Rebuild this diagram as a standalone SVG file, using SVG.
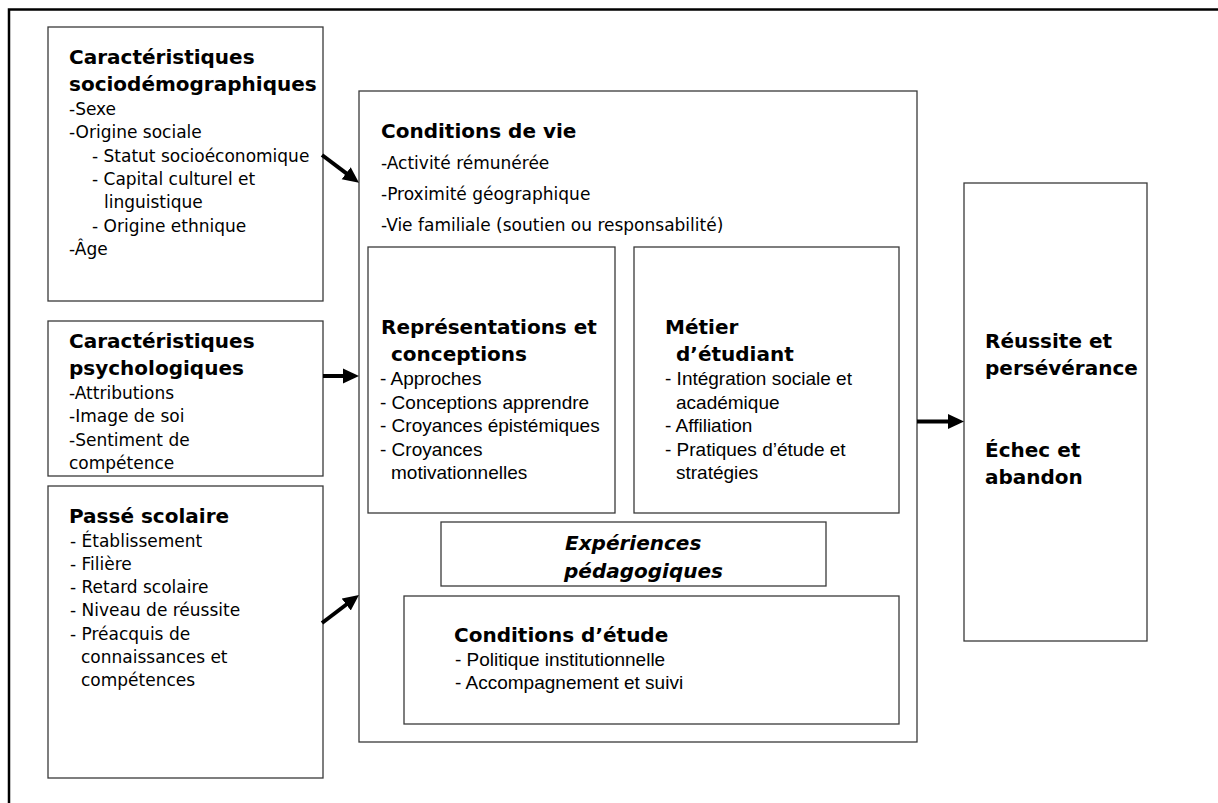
<svg xmlns="http://www.w3.org/2000/svg" width="1218" height="803" viewBox="0 0 1218 803">
<style>
.box{fill:#fff;stroke:#3a3a3a;stroke-width:1.3}
.t{font-family:"DejaVu Sans",Verdana,sans-serif;font-weight:bold;font-size:20px;fill:#000}
.ti{font-family:"DejaVu Sans",Verdana,sans-serif;font-weight:bold;font-style:italic;font-size:20px;fill:#000}
.r{font-family:"DejaVu Sans",Verdana,sans-serif;font-size:17px;fill:#000}
.a{font-family:"Liberation Sans",Arial,sans-serif;font-size:19px;fill:#000}
.conn{stroke:#000;stroke-width:4;fill:none;marker-end:url(#ah)}
</style>
<defs>
<marker id="ah" markerUnits="userSpaceOnUse" markerWidth="17" markerHeight="16" refX="6" refY="8" orient="auto">
<path d="M0,0.5 L16,8 L0,15.5 Z" fill="#000"/>
</marker>
</defs>
<rect width="1218" height="803" fill="#fff"/>
<path d="M9,803 V9.5 H1218" fill="none" stroke="#000" stroke-width="2.5"/>

<g id="socio">
<rect class="box" x="48" y="27" width="275" height="274"/>
<text class="t" x="69" y="64">Caractéristiques</text>
<text class="t" x="69" y="91">sociodémographiques</text>
<text class="r" x="69" y="115">-Sexe</text>
<text class="r" x="69" y="138">-Origine sociale</text>
<text class="r" x="92" y="162">- Statut socioéconomique</text>
<text class="r" x="92" y="185">- Capital culturel et</text>
<text class="r" x="104" y="208">linguistique</text>
<text class="r" x="92" y="232">- Origine ethnique</text>
<text class="r" x="69" y="255">-Âge</text>
</g>

<g id="psycho">
<rect class="box" x="48" y="321" width="275" height="155"/>
<text class="t" x="69" y="348">Caractéristiques</text>
<text class="t" x="69" y="375">psychologiques</text>
<text class="r" x="69" y="399">-Attributions</text>
<text class="r" x="69" y="422">-Image de soi</text>
<text class="r" x="69" y="446">-Sentiment de</text>
<text class="r" x="69" y="469">compétence</text>
</g>

<g id="passe">
<rect class="box" x="48" y="486" width="275" height="292"/>
<text class="t" x="69" y="523">Passé scolaire</text>
<text class="r" x="70" y="547">- Établissement</text>
<text class="r" x="70" y="570">- Filière</text>
<text class="r" x="70" y="593">- Retard scolaire</text>
<text class="r" x="70" y="616">- Niveau de réussite</text>
<text class="r" x="70" y="640">- Préacquis de</text>
<text class="r" x="81" y="663">connaissances et</text>
<text class="r" x="81" y="686">compétences</text>
</g>

<g id="conditions-vie">
<rect class="box" x="359" y="91" width="558" height="651"/>
<text class="t" x="381" y="138">Conditions de vie</text>
<text class="r" x="381" y="169">-Activité rémunérée</text>
<text class="r" x="381" y="200">-Proximité géographique</text>
<text class="r" x="381" y="231">-Vie familiale (soutien ou responsabilité)</text>
</g>

<g id="representations">
<rect class="box" x="368" y="247" width="247" height="266"/>
<text class="t" x="381" y="334">Représentations et</text>
<text class="t" x="391" y="361">conceptions</text>
<text class="a" x="380" y="385">- Approches</text>
<text class="a" x="380" y="409">- Conceptions apprendre</text>
<text class="a" x="380" y="432">- Croyances épistémiques</text>
<text class="a" x="380" y="456">- Croyances</text>
<text class="a" x="391" y="479">motivationnelles</text>
</g>

<g id="metier">
<rect class="box" x="634" y="247" width="265" height="266"/>
<text class="t" x="665" y="334">Métier</text>
<text class="t" x="676" y="361">d’étudiant</text>
<text class="a" x="665" y="385">- Intégration sociale et</text>
<text class="a" x="676" y="409">académique</text>
<text class="a" x="665" y="432">- Affiliation</text>
<text class="a" x="665" y="456">- Pratiques d’étude et</text>
<text class="a" x="676" y="479">stratégies</text>
</g>

<g id="experiences">
<rect class="box" x="441" y="522" width="385" height="64"/>
<text class="ti" x="565" y="550">Expériences</text>
<text class="ti" x="564" y="578">pédagogiques</text>
</g>

<g id="conditions-etude">
<rect class="box" x="404" y="596" width="495" height="128"/>
<text class="t" x="454" y="642">Conditions d’étude</text>
<text class="a" x="455" y="666">- Politique institutionnelle</text>
<text class="a" x="455" y="689">- Accompagnement et suivi</text>
</g>

<g id="reussite">
<rect class="box" x="964" y="183" width="183" height="458"/>
<text class="t" x="985" y="348">Réussite et</text>
<text class="t" x="985" y="375">persévérance</text>
<text class="t" x="985" y="457">Échec et</text>
<text class="t" x="985" y="484">abandon</text>
</g>

<g id="connectors">
<path class="conn" d="M322,155 L351,176.8"/>
<path class="conn" d="M323,376 L349,376"/>
<path class="conn" d="M322,623 L351,601"/>
<path class="conn" d="M917,421.5 L954,421.5"/>
</g>
</svg>
